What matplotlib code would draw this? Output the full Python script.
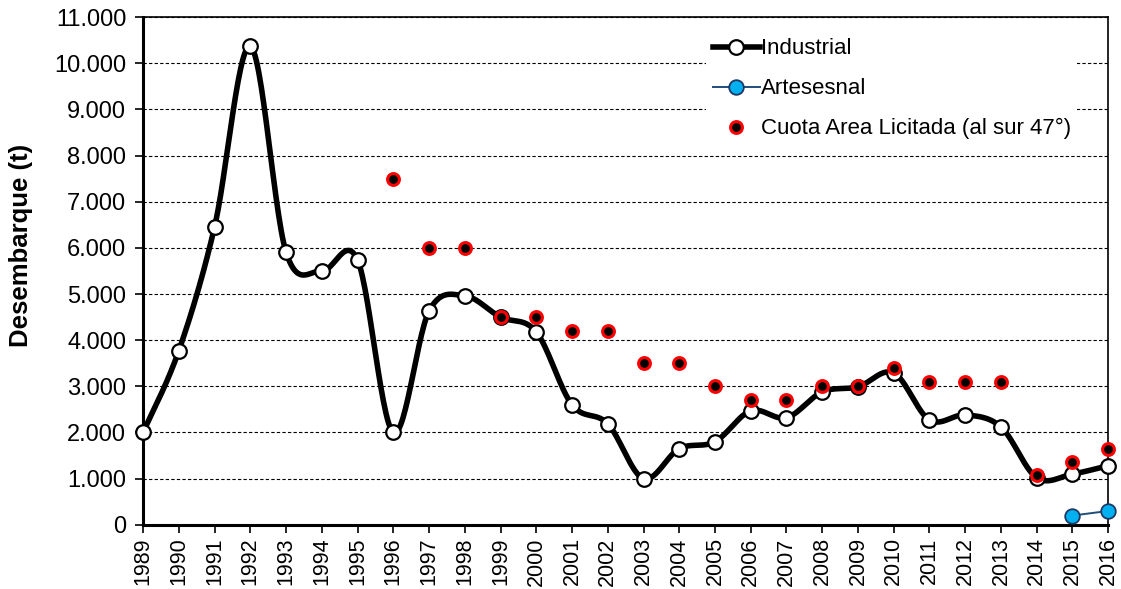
import numpy as np
import matplotlib.pyplot as plt
from matplotlib.ticker import FuncFormatter

# === Data ===
years = list(range(1989, 2017))
industrial = [2000, 3770, 6450, 10370, 5910, 5500, 5740, 2000, 4630, 4960,
              4500, 4180, 2600, 2190, 1000, 1650, 1800, 2470, 2320, 2880,
              2990, 3290, 2270, 2380, 2120, 1020, 1100, 1280]
cuota_years = list(range(1996, 2017))
cuota = [7500, 6000, 6000, 4500, 4500, 4200, 4200, 3500, 3500, 3000, 2700,
         2700, 3000, 3000, 3400, 3100, 3100, 3100, 1080, 1350, 1650]
artesanal_years = [2015, 2016]
artesanal = [200, 300]


def smooth_curve(x, y, n=30):
    """Excel-style smoothed line (Catmull-Rom Bezier through the points)."""
    x = np.asarray(x, float)
    y = np.asarray(y, float)
    px = np.concatenate([[x[0]], x, [x[-1]]])
    py = np.concatenate([[y[0]], y, [y[-1]]])
    xs, ys = [], []
    t = np.linspace(0, 1, n)
    for i in range(1, len(px) - 2):
        p0 = np.array([px[i], py[i]])
        p3 = np.array([px[i + 1], py[i + 1]])
        c1 = p0 + (np.array([px[i + 1], py[i + 1]]) - np.array([px[i - 1], py[i - 1]])) / 6
        c2 = p3 - (np.array([px[i + 2], py[i + 2]]) - np.array([px[i], py[i]])) / 6
        b = ((1 - t) ** 3)[:, None] * p0 + (3 * (1 - t) ** 2 * t)[:, None] * c1 \
            + (3 * (1 - t) * t ** 2)[:, None] * c2 + (t ** 3)[:, None] * p3
        xs.extend(b[:, 0])
        ys.extend(b[:, 1])
    return np.array(xs), np.array(ys)


plt.rcParams['font.family'] = ['Liberation Sans', 'DejaVu Sans']

fig = plt.figure(figsize=(11.21, 5.89), dpi=100)
ax = fig.add_axes([0.1276, 0.109, 0.861, 0.862])

ax.set_xlim(1989, 2016)
ax.set_ylim(0, 11000)
ax.yaxis.grid(True, color='black', linestyle=(0, (3, 2)), linewidth=0.8)
ax.set_axisbelow(True)

# Industrial smoothed line
sx, sy = smooth_curve(years, industrial)
ax.plot(sx, sy, color='black', lw=4, solid_capstyle='round', zorder=3)
ax.plot(years, industrial, linestyle='none', marker='o', ms=10.5,
        mfc='white', mec='black', mew=1.6, zorder=4, clip_on=False)
ind_handle, = ax.plot([], [], color='black', lw=4, marker='o', ms=10.5,
                      mfc='white', mec='black', mew=1.6, label='Industrial')

# Artesanal
art_handle, = ax.plot(artesanal_years, artesanal, color='#1F4E79', lw=1.4,
                      marker='o', ms=10.5, mfc='#00B0F0', mec='#1F3864',
                      mew=1.3, zorder=5, label='Artesesnal', clip_on=False)

# Cuota
cuota_handle, = ax.plot(cuota_years, cuota, linestyle='none', marker='o',
                        ms=8.5, mfc='black', mec='red', mew=2.2, zorder=6,
                        label='Cuota Area Licitada (al sur 47°)', clip_on=False)

ax.set_xticks(years)
ax.set_xticklabels([str(y) for y in years], rotation=90, fontsize=15.5)
ax.set_yticks(range(0, 11001, 1000))
ax.yaxis.set_major_formatter(FuncFormatter(lambda v, p: f"{int(v):,}".replace(',', '.')))
ax.tick_params(axis='y', labelsize=17, direction='out', length=6, width=1.2, pad=6)
ax.tick_params(axis='x', direction='out', length=6, width=1.2, pad=3)

for side in ['left', 'bottom']:
    ax.spines[side].set_linewidth(2.2)
for side in ['top', 'right']:
    ax.spines[side].set_linewidth(1.2)

ax.set_ylabel('Desembarque (t)', fontsize=18.5, fontweight='bold')
ax.yaxis.set_label_coords(-0.114, 0.55)

leg = ax.legend(handles=[ind_handle, art_handle, cuota_handle],
                loc='upper left', bbox_to_anchor=(0.572, 0.993), fontsize=16,
                frameon=True, facecolor='white', edgecolor='none', framealpha=1,
                fancybox=False, handlelength=2.1, handletextpad=0.05,
                labelspacing=0.85, borderpad=0.3)
leg.set_zorder(10)

fig.savefig('out.png', dpi=100)
